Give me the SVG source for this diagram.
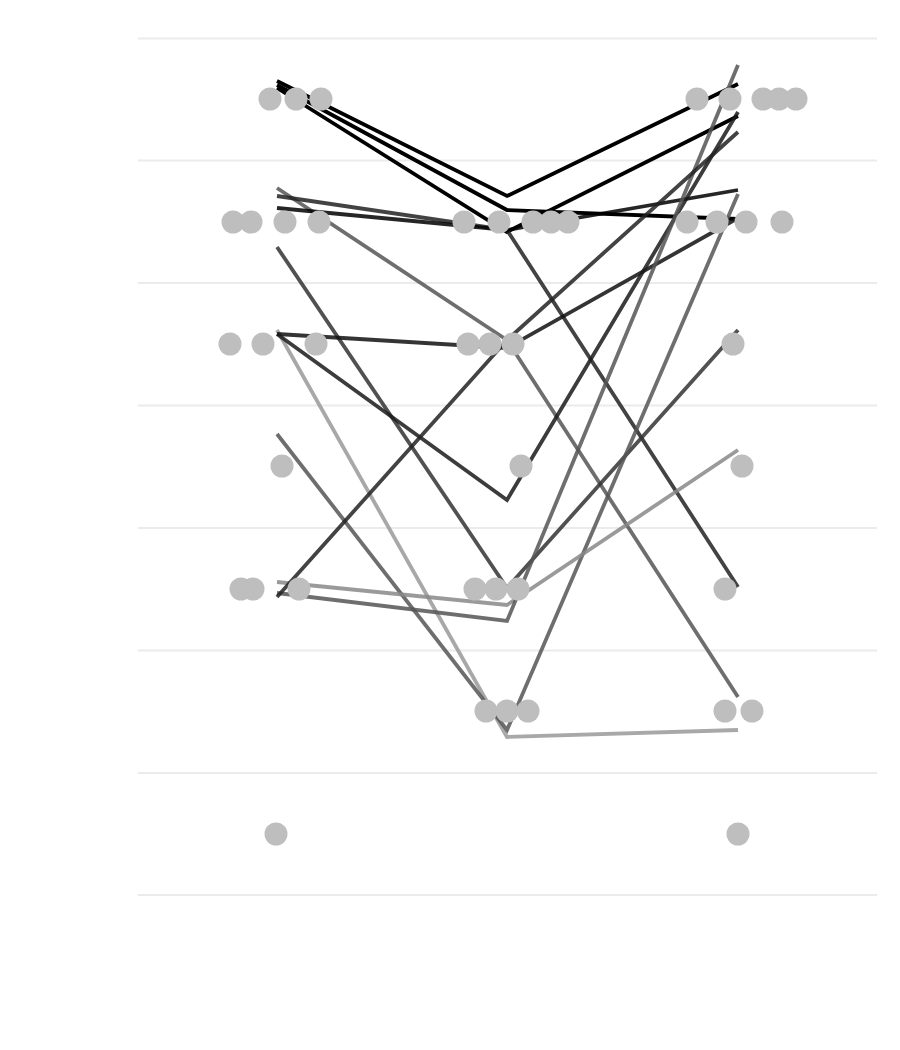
<svg xmlns="http://www.w3.org/2000/svg" width="900" height="1050" viewBox="0 0 900 1050">
<style>
.grid{stroke:#ebebeb;stroke-width:2;fill:none}
.ln{fill:none;stroke-width:3.8;stroke-linejoin:miter;stroke-opacity:0.85}
.blk{stroke:#000000;stroke-opacity:1}
.dot{fill:#bebebe}
</style>
<rect x="0" y="0" width="900" height="1050" fill="#ffffff"/>
<g id="grid">
<line class="grid" x1="138" y1="38.5" x2="877" y2="38.5"/>
<line class="grid" x1="138" y1="160.5" x2="877" y2="160.5"/>
<line class="grid" x1="138" y1="283" x2="877" y2="283"/>
<line class="grid" x1="138" y1="405.5" x2="877" y2="405.5"/>
<line class="grid" x1="138" y1="528" x2="877" y2="528"/>
<line class="grid" x1="138" y1="650.5" x2="877" y2="650.5"/>
<line class="grid" x1="138" y1="773" x2="877" y2="773"/>
<line class="grid" x1="138" y1="895" x2="877" y2="895"/>
</g>
<g id="connectors">
<polyline class="ln blk" points="277,81 507,196 738,84"/>
<polyline class="ln blk" points="277,85 507,210 738,219"/>
<polyline class="ln blk" points="277,88 507,232 738,116"/>
<polyline class="ln" stroke="#555555" points="277,188 507,340 738,697"/>
<polyline class="ln" stroke="#222222" points="277,196 507,230 738,587"/>
<polyline class="ln" stroke="#000000" points="277,208 507,230 738,190"/>
<polyline class="ln" stroke="#333333" points="277,247 507,588 738,330"/>
<polyline class="ln" stroke="#999999" points="277,330 507,737 738,730"/>
<polyline class="ln" stroke="#111111" points="277,334 507,348 738,218"/>
<polyline class="ln" stroke="#1a1a1a" points="277,334 507,500 738,112"/>
<polyline class="ln" stroke="#555555" points="277,434 507,730 738,194"/>
<polyline class="ln" stroke="#888888" points="277,582 507,605 738,450"/>
<polyline class="ln" stroke="#555555" points="277,593 507,621 738,65"/>
<polyline class="ln" stroke="#222222" points="277,597 507,340 738,132"/>
</g>
<g id="dots">
<g id="row1">
<circle class="dot" cx="270" cy="99" r="11.5"/>
<circle class="dot" cx="296" cy="99" r="11.5"/>
<circle class="dot" cx="321" cy="99" r="11.5"/>
<circle class="dot" cx="697" cy="99" r="11.5"/>
<circle class="dot" cx="730" cy="99" r="11.5"/>
<circle class="dot" cx="763" cy="99" r="11.5"/>
<circle class="dot" cx="779" cy="99" r="11.5"/>
<circle class="dot" cx="796" cy="99" r="11.5"/>
</g>
<g id="row2">
<circle class="dot" cx="233" cy="222" r="11.5"/>
<circle class="dot" cx="251" cy="222" r="11.5"/>
<circle class="dot" cx="285" cy="222" r="11.5"/>
<circle class="dot" cx="319" cy="222" r="11.5"/>
<circle class="dot" cx="464" cy="222" r="11.5"/>
<circle class="dot" cx="499" cy="222" r="11.5"/>
<circle class="dot" cx="533" cy="222" r="11.5"/>
<circle class="dot" cx="551" cy="222" r="11.5"/>
<circle class="dot" cx="568" cy="222" r="11.5"/>
<circle class="dot" cx="687" cy="222" r="11.5"/>
<circle class="dot" cx="717" cy="222" r="11.5"/>
<circle class="dot" cx="746" cy="222" r="11.5"/>
<circle class="dot" cx="782" cy="222" r="11.5"/>
</g>
<g id="row3">
<circle class="dot" cx="230" cy="344" r="11.5"/>
<circle class="dot" cx="263" cy="344" r="11.5"/>
<circle class="dot" cx="316" cy="344" r="11.5"/>
<circle class="dot" cx="468" cy="344" r="11.5"/>
<circle class="dot" cx="490" cy="344" r="11.5"/>
<circle class="dot" cx="513" cy="344" r="11.5"/>
<circle class="dot" cx="733" cy="344" r="11.5"/>
</g>
<g id="row4">
<circle class="dot" cx="282" cy="466" r="11.5"/>
<circle class="dot" cx="521" cy="466" r="11.5"/>
<circle class="dot" cx="742" cy="466" r="11.5"/>
</g>
<g id="row5">
<circle class="dot" cx="241" cy="589" r="11.5"/>
<circle class="dot" cx="253" cy="589" r="11.5"/>
<circle class="dot" cx="299" cy="589" r="11.5"/>
<circle class="dot" cx="475" cy="589" r="11.5"/>
<circle class="dot" cx="496" cy="589" r="11.5"/>
<circle class="dot" cx="518" cy="589" r="11.5"/>
<circle class="dot" cx="725" cy="589" r="11.5"/>
</g>
<g id="row6">
<circle class="dot" cx="486" cy="711" r="11.5"/>
<circle class="dot" cx="507" cy="711" r="11.5"/>
<circle class="dot" cx="528" cy="711" r="11.5"/>
<circle class="dot" cx="725" cy="711" r="11.5"/>
<circle class="dot" cx="752" cy="711" r="11.5"/>
</g>
<g id="row7">
<circle class="dot" cx="276" cy="834" r="11.5"/>
<circle class="dot" cx="738" cy="834" r="11.5"/>
</g>
</g>
</svg>
